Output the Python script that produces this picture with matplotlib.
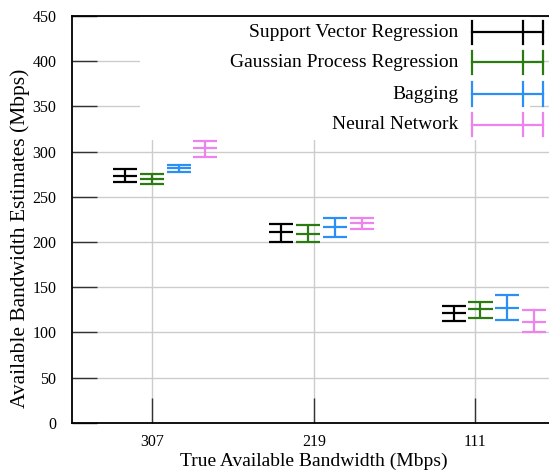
import matplotlib
matplotlib.use("Agg")
import matplotlib.pyplot as plt
from matplotlib.patches import Rectangle

plt.rcParams['font.family'] = ['Liberation Serif', 'DejaVu Serif']

# ---------------- data ----------------
categories = ["307", "219", "111"]
series = ["Support Vector Regression", "Gaussian Process Regression", "Bagging", "Neural Network"]
colors = ["#000000", "#2b7a12", "#2b8ff5", "#ee82ee"]

# mean, lower, upper per series (one entry per category)
svr_mean = [273.3, 210.7, 121.6]
svr_low = [266.7, 200.3, 113.0]
svr_high = [280.4, 219.9, 129.5]

gpr_mean = [270.0, 209.1, 125.6]
gpr_low = [264.1, 199.9, 115.5]
gpr_high = [275.2, 218.5, 133.0]

bag_mean = [281.5, 216.0, 127.0]
bag_low = [277.8, 205.0, 114.0]
bag_high = [285.5, 226.0, 141.3]

nn_mean = [303.6, 221.5, 111.8]
nn_low = [294.3, 214.0, 100.0]
nn_high = [312.1, 227.0, 124.3]

yticks = [0, 50, 100, 150, 200, 250, 300, 350, 400, 450]

# ---------------- layout ----------------
cluster_start = [-0.1715, -0.2012, -0.1344]   # offset of first series in each cluster
step = 1.0 / 6.0
half_cap = 0.0745

means = [svr_mean, gpr_mean, bag_mean, nn_mean]
lows = [svr_low, gpr_low, bag_low, nn_low]
highs = [svr_high, gpr_high, bag_high, nn_high]

W, H = 549, 475
fig = plt.figure(figsize=(W / 100, H / 100), dpi=100)
ax_left, ax_right, ax_bottom, ax_top = 71.7, 556.0, 422.7, 16.0
ax = fig.add_axes([ax_left / W, (H - ax_bottom) / H,
                   (ax_right - ax_left) / W, (ax_bottom - ax_top) / H])

ax.set_xlim(0.5, 3.5)
ax.set_ylim(0, 450)
ax.set_yticks(yticks)
ax.set_xticks([1, 2, 3])
ax.set_xticklabels(categories)

ax.grid(True, color="#cccccc", linewidth=1.0, zorder=0)
ax.set_axisbelow(True)
ax.tick_params(axis='both', direction='in', length=18, width=1.0, color="#333333",
               labelsize=11.5)
ax.tick_params(axis='y', pad=11)
ax.tick_params(axis='x', pad=8)
ax.spines['right'].set_visible(False)
for s in ['left', 'bottom', 'top']:
    ax.spines[s].set_linewidth(1.3)

# opaque key box
ax.add_patch(Rectangle((0.141, 0.695), 0.805, 0.31, transform=ax.transAxes,
                       facecolor='white', edgecolor='none', zorder=1.5))

lw = 1.6
for si in range(len(series)):
    for ci in range(len(categories)):
        x = ci + 1 + cluster_start[ci] + si * step
        c = colors[si]
        ax.vlines(x, lows[si][ci], highs[si][ci], color=c, linewidth=lw, zorder=3)
        for yv in (lows[si][ci], means[si][ci], highs[si][ci]):
            ax.hlines(yv, x - half_cap, x + half_cap, color=c, linewidth=lw, zorder=3)

# key
key_y = [0.9599, 0.8861, 0.8082, 0.7324]
x0, xm, x1 = 0.826, 0.9315, 0.9738
th = 0.0283
for si, name in enumerate(series):
    y = key_y[si]
    c = colors[si]
    ax.plot([x0, x1], [y, y], color=c, linewidth=lw, transform=ax.transAxes,
            zorder=4, clip_on=False)
    for xx in (x0, xm, x1):
        ax.plot([xx, xx], [y - th, y + th], color=c, linewidth=lw,
                transform=ax.transAxes, zorder=4, clip_on=False)
    ax.text(0.7983, y, name, transform=ax.transAxes, ha='right', va='center',
            fontsize=14, zorder=4)

ax.set_xlabel("True Available Bandwidth (Mbps)", fontsize=14, labelpad=2)
fig.text(20 / W, 1 - 238 / H, "Available Bandwidth Estimates (Mbps)", rotation=90,
         ha='center', va='center', fontsize=15.5)

fig.savefig("out.png", dpi=100)
